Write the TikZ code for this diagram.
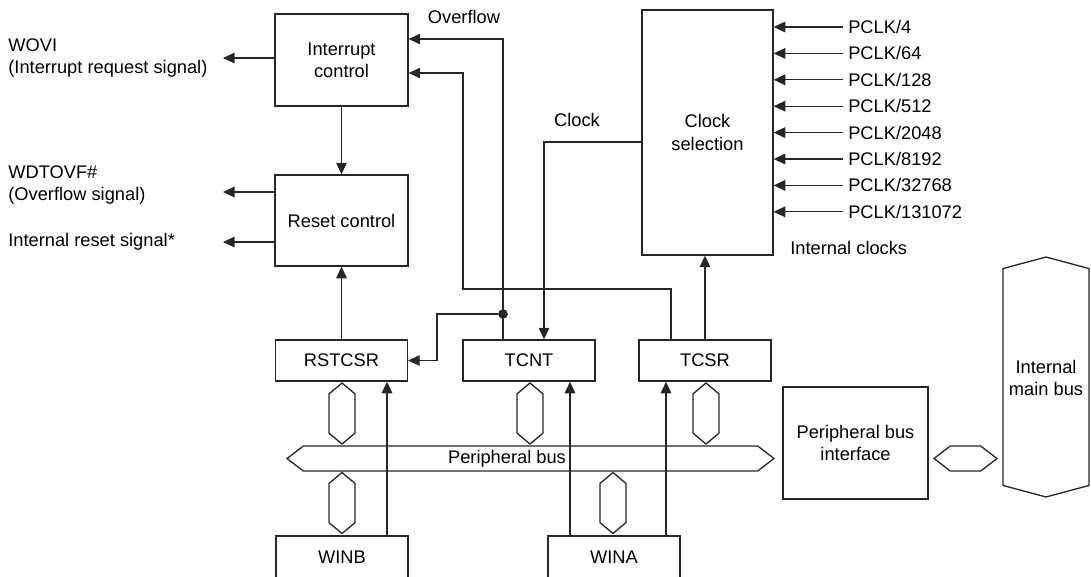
\documentclass[tikz,border=0pt]{standalone}
\usepackage{fontspec}
\setmainfont{Liberation Sans}
\usetikzlibrary{arrows.meta,shapes.symbols}
\newcommand{\diafont}{\fontsize{10.4}{12.6}\selectfont}
\tikzset{
  block/.style={rectangle,draw=black!85,line width=.75pt,align=center,
    inner sep=0pt,font=\diafont},
  reg/.style={block,minimum width=2.64cm,minimum height=0.82cm},
  busline/.style={signal,draw=black!85,line width=.75pt,inner sep=0pt,
    font=\diafont},
  sig/.style={-{Triangle[length=6.6pt,width=6pt]},line width=.75pt,
    draw=black!85}}

\begin{document}
\begin{tikzpicture}[x=0.02cm,y=-0.02cm,
  vbus/.style={busline,signal to=east and west,signal pointer angle=100,
    rotate=90,minimum width=1.22cm,minimum height=0.52cm},
  hbus/.style={busline,signal to=east and west,signal pointer angle=75,
    minimum height=0.5cm},
  lbl/.style={font=\diafont,inner sep=0pt,align=left},
  dot/.style={circle,fill=black!85,inner sep=0pt,minimum size=5.5pt}]

  \useasboundingbox (0,0) rectangle (1091,576);

  % control blocks
  \node[block,minimum width=2.66cm,minimum height=1.84cm] (intc) at (341.5,60)
    {Interrupt\\control};
  \node[block,minimum width=2.66cm,minimum height=1.82cm] (rstc) at (341.5,220.5)
    {Reset control};
  \node[block,minimum width=2.62cm,minimum height=4.9cm] (clksel) at (707.5,132.5)
    {Clock\\selection};

  % registers
  \node[reg] (rstcsr) at (341.5,360.5) {RSTCSR};
  \node[reg] (tcnt) at (529,360.5) {TCNT};
  \node[reg] (tcsr) at (705,360.5) {TCSR};
  \node[reg,minimum height=0.84cm] (winb) at (342,557) {WINB};
  \node[reg,minimum height=0.84cm] (wina) at (614,557) {WINA};

  % buses
  \node[hbus,minimum width=9.74cm] (pbus) at (530.5,458.5) {};
  \node[lbl] (pbuslbl) at (507,458.5) {Peripheral bus};
  \node[vbus] (hxrst) at (342,413.5) {};
  \node[vbus] (hxtcnt) at (530,413.5) {};
  \node[vbus] (hxtcsr) at (706,413.5) {};
  \node[vbus] (hxwinb) at (342,503) {};
  \node[vbus] (hxwina) at (613,503) {};
  \node[block,minimum width=2.9cm,minimum height=2.24cm] (pbi) at (855.5,443)
    {Peripheral bus\\interface};
  \node[hbus,minimum width=1.26cm] (pbilink) at (965.5,458.5) {};
  \node[busline,signal to=east and west,signal pointer angle=150,rotate=90,
    minimum width=4.8cm,minimum height=1.72cm] (imb) at (1046,377) {};
  \node[lbl,align=center] (imblbl) at (1046,378) {Internal\\main bus};

  % outputs
  \node[lbl,anchor=west] (wovi) at (8,58)
    {WOVI\\(Interrupt request signal)};
  \node[lbl,anchor=west] (wdtovf) at (8,185)
    {WDTOVF\#\\(Overflow signal)};
  \node[lbl,anchor=west] (intrst) at (8,242) {Internal reset signal*};
  \coordinate (woviend) at (223,58);
  \coordinate (wdtend) at (223,192);
  \coordinate (rstend) at (223,242);
  \draw[sig] (intc.west |- woviend) -- (woviend);
  \draw[sig] (rstc.west |- wdtend) -- (wdtend);
  \draw[sig] (rstc.west |- rstend) -- (rstend);

  \draw[sig] (intc) -- (rstc);
  \draw[sig] (rstcsr) -- (rstc);

  % overflow and compare paths
  \node[lbl] (ovflbl) at (464,17) {Overflow};
  \coordinate (ovx) at (503,39);
  \node[dot] (ovfdot) at (503,314) {};
  \coordinate (rstin) at (437,360.5);
  \draw[sig] (tcnt.north -| ovx) -- (ovx) -- (intc.east |- ovx);
  \draw[sig] (ovfdot) -| (rstin) -- (rstcsr.east);
  \coordinate (cmx) at (463,73);
  \coordinate (cmb) at (671,289);
  \draw[sig] (tcsr.north -| cmb) -- (cmb) -| (cmx) -- (intc.east |- cmx);

  % clock
  \node[lbl] (clklbl) at (577,120) {Clock};
  \coordinate (clk) at (544,142);
  \draw[sig] (clksel.west |- clk) -| (tcnt.north -| clk);
  \draw[sig] (tcsr.north) -- (tcsr.north |- clksel.south);
  \foreach \dv [count=\i] in {4,64,128,512,2048,8192,32768,131072}{
    \node[lbl,anchor=west,inner xsep=2.8pt] (pclk\i) at (843,{27+26.4*(\i-1)})
      {PCLK/\dv};
    \draw[sig] (pclk\i.west) -- (clksel.east |- pclk\i.west);
  }
  \node[lbl,anchor=west] (intclk) at (790,248) {Internal clocks};

  % write strobes
  \coordinate (wbx) at (387,0);
  \coordinate (wax) at (570,0);
  \coordinate (wcx) at (666,0);
  \draw[sig] (winb.north -| wbx) -- (rstcsr.south -| wbx);
  \draw[sig] (wina.north -| wax) -- (tcnt.south -| wax);
  \draw[sig] (wina.north -| wcx) -- (tcsr.south -| wcx);
\end{tikzpicture}
\end{document}
